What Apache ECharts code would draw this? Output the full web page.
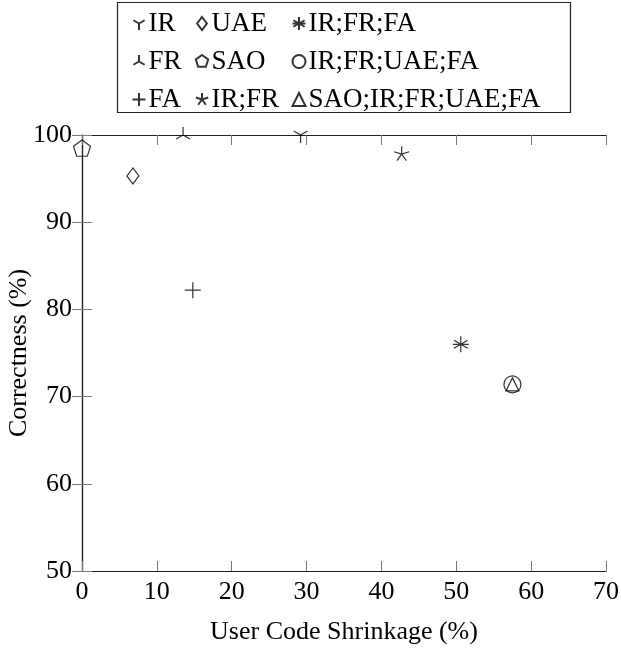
<!DOCTYPE html>
<html>
<head>
<meta charset="utf-8">
<script src="https://cdn.jsdelivr.net/npm/echarts@6/dist/echarts.min.js"></script>
<style>
  html, body { margin: 0; padding: 0; background: #fff; }
  #chart { width: 621px; height: 648px; }
</style>
</head>
<body>
<div id="chart"></div>
<script>
// data
const seriesNames = ['IR', 'FR', 'FA', 'UAE', 'SAO', 'IR;FR', 'IR;FR;FA', 'IR;FR;UAE;FA', 'SAO;IR;FR;UAE;FA']
const shrinkage = [29.2, 13.5, 14.8, 6.8, 0, 42.7, 50.6, 57.5, 57.5]
const correctness = [100, 100, 82.2, 95.3, 98.4, 97.8, 76.0, 71.4, 71.4]
const xTicks = [0, 10, 20, 30, 40, 50, 60, 70]
const yTicks = [50, 60, 70, 80, 90, 100]

// marker shapes (the trailing moves keep the box square and centred)
const pad = ' M-10 -10 M10 10'
const marks = {
  'IR': { symbol: 'path://M0 0 L0 10 M0 0 L-8.66 -5 M0 0 L8.66 -5' + pad, size: 16 },
  'FR': { symbol: 'path://M0 0 L0 -10 M0 0 L-8.66 5 M0 0 L8.66 5' + pad, size: 16 },
  'FA': { symbol: 'path://M-10 0 L10 0 M0 -10 L0 10' + pad, size: 16 },
  'UAE': { symbol: 'path://M0 -10 L7.5 0 L0 10 L-7.5 0 Z' + pad, size: 16 },
  'SAO': { symbol: 'path://M0 -10 L9.51 -3.09 L5.88 8.09 L-5.88 8.09 L-9.51 -3.09 Z' + pad, size: 18 },
  'IR;FR': { symbol: 'path://M0 0 L0 -10 M0 0 L9.51 -3.09 M0 0 L5.88 8.09 M0 0 L-5.88 8.09 M0 0 L-9.51 -3.09' + pad, size: 16 },
  'IR;FR;FA': { symbol: 'path://M0 -10 L0 10 M-10 0 L10 0 M-8.66 -5 L8.66 5 M8.66 -5 L-8.66 5' + pad, size: 16 },
  'IR;FR;UAE;FA': { symbol: 'circle', size: 17 },
  'SAO;IR;FR;UAE;FA': { symbol: 'triangle', size: 13 }
}

const font = 'Liberation Serif'
const chart = echarts.init(document.getElementById('chart'))

const legendLeft = [130, 193, 290]
const legends = legendLeft.map((left, c) => ({
  orient: 'vertical',
  left: left,
  top: 10,
  padding: 0,
  itemGap: 11,
  itemWidth: 13,
  itemHeight: 13,
  selectedMode: false,
  data: seriesNames.slice(c * 3, c * 3 + 3),
  textStyle: { fontFamily: font, fontSize: 27, lineHeight: 26, color: '#000', padding: [0, 0, 0, -2] }
}))

const axisCommon = {
  type: 'value',
  axisLine: { show: true, lineStyle: { color: '#222', width: 1.2 } },
  axisTick: { show: true, inside: true, length: 10, lineStyle: { color: '#777', width: 1 } },
  splitLine: { show: false }
}

const option = {
  animation: false,
  backgroundColor: '#fff',
  graphic: [{
    type: 'rect',
    shape: { x: 117.5, y: 2.5, width: 453, height: 110 },
    style: { fill: 'none', stroke: '#222', lineWidth: 1.2 }
  }],
  legend: legends,
  grid: { left: 82, right: 15, top: 135, bottom: 77, outerBoundsMode: 'none', containLabel: false },
  xAxis: [
    Object.assign({}, axisCommon, {
      min: xTicks[0], max: xTicks[xTicks.length - 1], interval: 10,
      position: 'bottom',
      name: 'User Code Shrinkage (%)',
      nameLocation: 'middle',
      nameGap: 48,
      nameMoveOverlap: false,
      nameTextStyle: { fontFamily: font, fontSize: 26, color: '#000' },
      axisLabel: { fontFamily: font, fontSize: 26, color: '#000', margin: 8 }
    }),
    Object.assign({}, axisCommon, {
      min: xTicks[0], max: xTicks[xTicks.length - 1], interval: 10,
      position: 'top',
      axisLabel: { show: false }
    })
  ],
  yAxis: [
    Object.assign({}, axisCommon, {
      min: yTicks[0], max: yTicks[yTicks.length - 1], interval: 10,
      position: 'left',
      name: 'Correctness (%)',
      nameLocation: 'middle',
      nameGap: 50,
      nameMoveOverlap: false,
      nameTextStyle: { fontFamily: font, fontSize: 26, color: '#000' },
      axisLabel: { fontFamily: font, fontSize: 26, color: '#000', margin: 10 }
    }),
    Object.assign({}, axisCommon, {
      min: yTicks[0], max: yTicks[yTicks.length - 1], interval: 10,
      position: 'right',
      axisLabel: { show: false }
    })
  ],
  series: seriesNames.map((name, i) => ({
    name: name,
    type: 'scatter',
    clip: false,
    symbol: marks[name].symbol,
    symbolSize: marks[name].size,
    itemStyle: { color: 'none', borderColor: '#000', borderWidth: 1.2 },
    emphasis: { disabled: true },
    data: [[shrinkage[i], correctness[i]]]
  }))
}

chart.setOption(option)
</script>
</body>
</html>
